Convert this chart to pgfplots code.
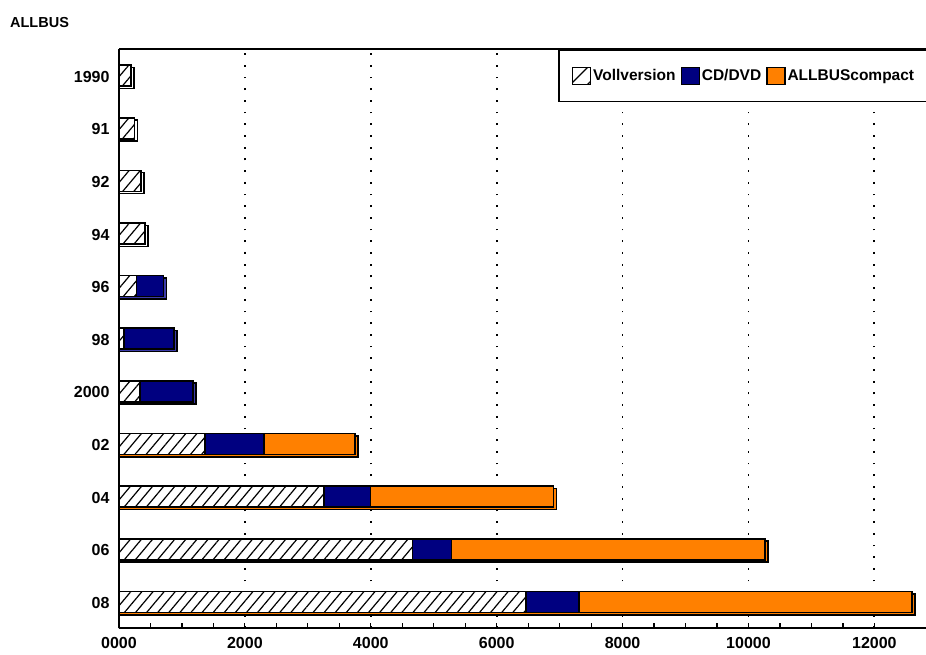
\documentclass[border=0pt]{standalone}
\usepackage{fontspec}
\setmainfont{Liberation Sans}
\usepackage{pgfplots}
\pgfplotsset{compat=1.18}
\usepackage{pgfplotstable}
\usetikzlibrary{patterns.meta}
\definecolor{navy}{RGB}{0,0,128}
\definecolor{navylight}{RGB}{60,60,170}
\definecolor{orng}{RGB}{255,128,0}

% front faces (cumulative ends), y index: 10 = 1990 ... 0 = 08
\pgfplotstableread{
y v
10 190
9 245
8 350
7 415
6 280
5 80
4 330
3 1370
2 3255
1 4665
0 6465
}\voll
\pgfplotstableread{
y v
6 705
5 870
4 1175
3 2300
2 3995
1 5285
0 7305
}\cd
\pgfplotstableread{
y v
3 3750
2 6900
1 10260
0 12600
}\comp
% back faces (3D edge)
\pgfplotstableread{
y v
10 238
9 293
8 398
7 463
}\shw
\pgfplotstableread{
y v
6 753
5 918
4 1223
}\shc
\pgfplotstableread{
y v
3 3798
2 6948
1 10308
0 12648
}\sho

\begin{document}
\begin{tikzpicture}
\begin{axis}[
  name=ax,
  scale only axis,
  width=807pt, height=579pt,
  xmin=0, xmax=12820, ymin=-0.5, ymax=10.5,
  enlargelimits=false,
  clip=false,
  axis x line=bottom, axis y line=left,
  axis line style={-, line width=1.6pt},
  xbar, bar width=21pt,
  xtick={0,2000,...,12000},
  xticklabels={0000,2000,4000,6000,8000,10000,12000},
  minor x tick num=3,
  tick align=inside,
  major tick length=5pt, minor tick length=5pt,
  x tick style={line width=1.2pt, black},
  ytick={0,...,10},
  yticklabels={08,06,04,02,2000,98,96,94,92,91,1990},
  y tick style={draw=none},
  xmajorgrids,
  grid style={black, line width=1.8pt, dash pattern=on 1.8pt off 9.9pt},
  tick label style={font=\fontsize{16}{19}\selectfont\bfseries},
  xticklabel style={yshift=-5.5pt},
  yticklabel style={xshift=-6pt, yshift=-1pt},
  legend columns=3,
  legend image code/.code={\draw[#1, line width=1.3pt] (0pt,-8.5pt) rectangle (18pt,8.5pt);},
  legend style={at={(axis description cs:0.544,1)}, anchor=north west,
    draw=black, line width=1.6pt, font=\fontsize{15.5}{18}\selectfont\bfseries,
    inner xsep=13pt, inner ysep=16.5pt,
    nodes={inner sep=2pt},
    /tikz/every even column/.append style={column sep=3pt}},
]
\addlegendimage{fill=white, draw=black, postaction={pattern={Lines[angle=45,distance=12pt,line width=1.2pt]}, pattern color=black}}
\addlegendentry{Vollversion}
\addlegendimage{fill=navy, draw=black}
\addlegendentry{CD/DVD}
\addlegendimage{fill=orng, draw=black}
\addlegendentry{ALLBUScompact}

% 3D edges
\addplot[forget plot, fill=white, draw=black, line width=1.5pt, bar shift=-2.3pt] table[x=v,y=y]{\shw};
\addplot[forget plot, fill=navylight, draw=black, line width=1.5pt, bar shift=-2.3pt] table[x=v,y=y]{\shc};
\addplot[forget plot, fill=orng, draw=black, line width=1.5pt, bar shift=-2.3pt] table[x=v,y=y]{\sho};
% front faces
\addplot[forget plot, fill=orng, draw=black, line width=1.6pt, bar shift=0pt] table[x=v,y=y]{\comp};
\addplot[forget plot, fill=navy, draw=black, line width=1.6pt, bar shift=0pt] table[x=v,y=y]{\cd};
\addplot[forget plot, fill=white, draw=black, line width=1.6pt, bar shift=0pt,
  postaction={pattern={Lines[angle=50,distance=8.5pt,line width=1.2pt]}, pattern color=black}] table[x=v,y=y]{\voll};

\draw[line width=1.6pt] (axis description cs:0,1) -- (axis description cs:1,1);
\node[anchor=base west, inner sep=0pt, font=\fontsize{14.5}{17}\selectfont\bfseries] at (axis description cs:-0.1351,1.038) {ALLBUS};
\end{axis}
\pgfresetboundingbox
\path[use as bounding box] ([xshift=-119pt,yshift=-26.7pt]ax.south west) rectangle ([yshift=49.3pt]ax.north east);
\end{tikzpicture}
\end{document}
